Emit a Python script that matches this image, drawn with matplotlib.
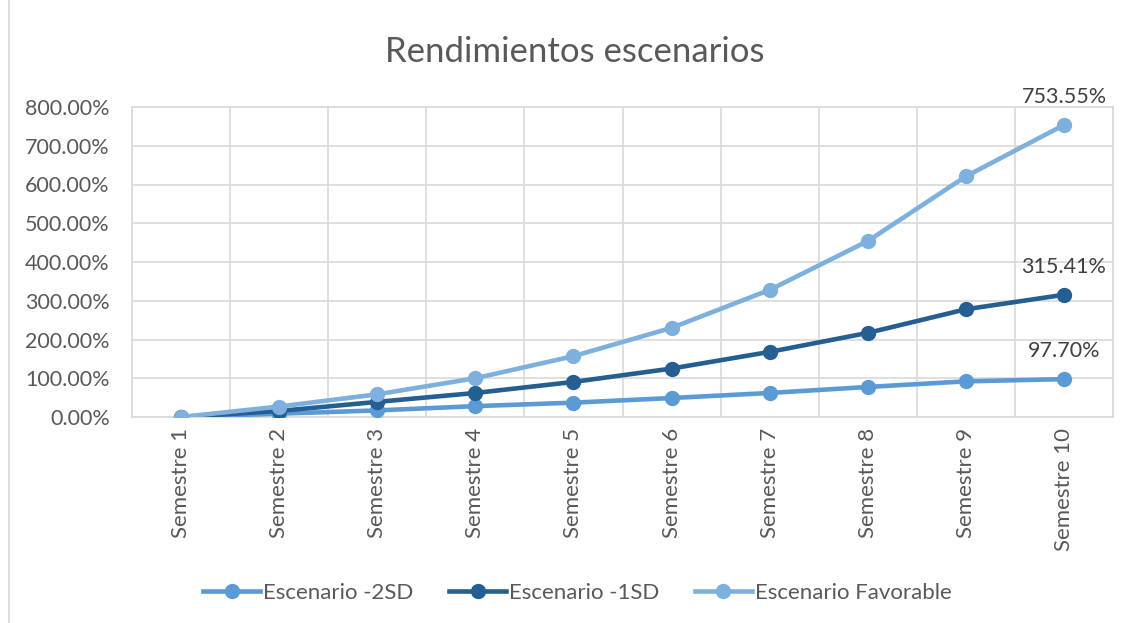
import matplotlib
matplotlib.use("Agg")
import matplotlib.pyplot as plt
from matplotlib.lines import Line2D
import numpy as np

categories = ["Semestre 1", "Semestre 2", "Semestre 3", "Semestre 4", "Semestre 5",
              "Semestre 6", "Semestre 7", "Semestre 8", "Semestre 9", "Semestre 10"]
esc_2sd = [0.0, 8.6, 17.0, 28.0, 37.0, 49.0, 62.0, 77.5, 92.0, 97.70]
esc_1sd = [0.0, 15.5, 39.0, 62.0, 90.5, 125.0, 168.0, 217.0, 278.0, 315.41]
esc_fav = [0.0, 27.0, 58.5, 100.0, 157.0, 230.0, 328.0, 454.0, 621.0, 753.55]
series_names = ["Escenario -2SD", "Escenario -1SD", "Escenario Favorable"]
yticks = [0, 100, 200, 300, 400, 500, 600, 700, 800]

colors = ["#5B9BD5", "#255E91", "#7EB0DE"]
txt = "#595959"
grid = "#D9D9D9"
plt.rcParams['font.family'] = ['Lato', 'DejaVu Sans']

fig = plt.figure(figsize=(11.34, 6.23), dpi=100)
ax = fig.add_axes([132/1134, 1-417/623, (1113-132)/1134, (417-107)/623])

x = np.arange(len(categories))
order = [2, 1, 0]
data = [esc_2sd, esc_1sd, esc_fav]
for i in order:
    ax.plot(x, data[i], color=colors[i], lw=3.3, marker='o', ms=10,
            markerfacecolor=colors[i], markeredgecolor=colors[i], zorder=3+i)

ax.set_xlim(-0.5, len(categories)-0.5)
ax.set_ylim(0, 800)
ax.set_yticks(yticks)
ax.set_yticklabels([f"{v:.2f}%" for v in yticks], color=txt, fontsize=15.5)
ax.set_xticks(x)
ax.set_xticklabels(categories, rotation=90, color=txt, fontsize=16)
ax.set_xticks(np.arange(-0.5, len(categories)), minor=True)
ax.tick_params(axis='both', which='both', length=0)
ax.tick_params(axis='y', pad=16)
ax.tick_params(axis='x', pad=8)
ax.grid(True, axis='y', color=grid, lw=1.2)
ax.grid(True, axis='x', which='minor', color=grid, lw=1.2)
ax.set_axisbelow(True)
for s in ax.spines.values():
    s.set_color(grid)
    s.set_linewidth(1.2)

for v in [esc_2sd[-1], esc_1sd[-1], esc_fav[-1]]:
    ax.annotate(f"{v:.2f}%", (x[-1], v), xytext=(0, 13), textcoords='offset points',
                ha='center', va='bottom', color='#404040', fontsize=15.5)

fig.text(575/1134, 1-52/623, "Rendimientos escenarios", ha='center', va='center',
         fontsize=25, color=txt)

handles = [Line2D([0], [0], color=colors[i], lw=3.3, marker='o', ms=10) for i in range(3)]
leg = fig.legend(handles, series_names, loc='center', bbox_to_anchor=(577/1134, 1-593/623),
                 ncol=3, frameon=False, fontsize=16, handlelength=2.6, columnspacing=1.6,
                 handletextpad=0.1)
for t in leg.get_texts():
    t.set_color(txt)

fig.add_artist(Line2D([8.5/1134, 8.5/1134], [0, 1], color=grid, lw=1.2,
                      transform=fig.transFigure))

fig.savefig("out.png", dpi=100)
